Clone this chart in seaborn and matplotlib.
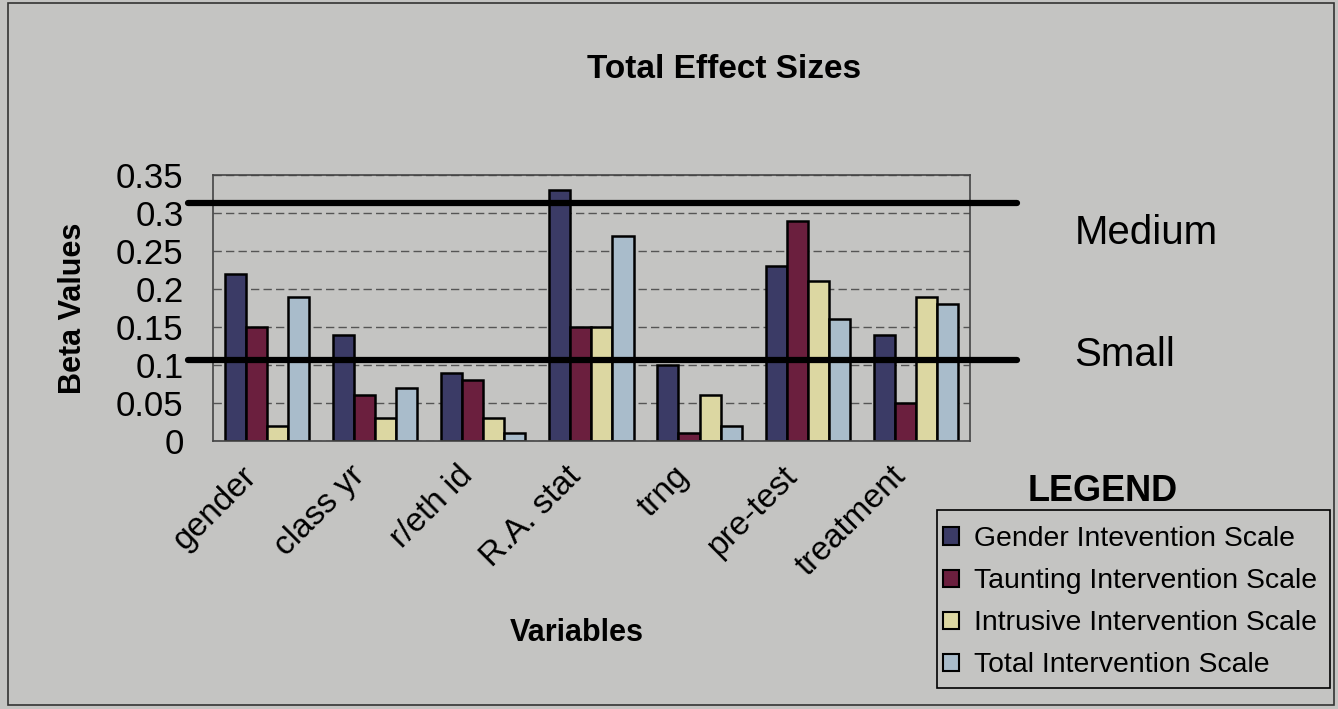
import numpy as np
import pandas as pd
import matplotlib
matplotlib.use('Agg')
import matplotlib.pyplot as plt
import seaborn as sns
from matplotlib.patches import Rectangle

# data
variables = ['gender', 'class yr', 'r/eth id', 'R.A. stat', 'trng', 'pre-test', 'treatment']
scales = ['Gender Intevention Scale', 'Taunting Intervention Scale',
          'Intrusive Intervention Scale', 'Total Intervention Scale']
gender_scale = [0.22, 0.14, 0.09, 0.33, 0.10, 0.23, 0.14]
taunting_scale = [0.15, 0.06, 0.08, 0.15, 0.01, 0.29, 0.05]
intrusive_scale = [0.02, 0.03, 0.03, 0.15, 0.06, 0.21, 0.19]
total_scale = [0.19, 0.07, 0.01, 0.27, 0.02, 0.16, 0.18]
medium_cut = 0.313
small_cut = 0.107

colors = ['#3b3b66', '#6b1f3e', '#dcd7a2', '#a9bccb']
bg = '#c4c4c2'

df = pd.DataFrame({'variable': variables * 4,
                   'scale': np.repeat(scales, len(variables)),
                   'beta': gender_scale + taunting_scale + intrusive_scale + total_scale})

sns.set_style('white')
plt.rcParams['font.family'] = ['Liberation Sans', 'DejaVu Sans']
plt.rcParams['text.color'] = 'black'
plt.rcParams['axes.labelcolor'] = 'black'
plt.rcParams['xtick.color'] = 'black'
plt.rcParams['ytick.color'] = 'black'

fig = plt.figure(figsize=(13.38, 7.09), dpi=100, facecolor=bg)
ax = fig.add_axes([0.159, 0.378, 0.566, 0.375])
ax.set_facecolor(bg)

sns.barplot(data=df, x='variable', y='beta', hue='scale', palette=colors,
            width=0.78, edgecolor='black', linewidth=1.8, saturation=1, ax=ax)

ax.set_ylim(0, 0.35)
ax.set_xlim(-0.5, 6.5)
ax.set_yticks(np.arange(0, 0.351, 0.05))
ax.set_yticklabels(['0', '0.05', '0.1', '0.15', '0.2', '0.25', '0.3', '0.35'], fontsize=25)
ax.yaxis.grid(True, color='#555555', linestyle=(0, (6, 3)), linewidth=1)
ax.set_axisbelow(True)
ax.tick_params(axis='y', direction='out', length=6, width=1, color='#444444', pad=15)

# Excel puts the slanted labels a bit left of the group centres
ax.set_xticks(np.arange(len(variables)) - 0.24)
ax.set_xticklabels(variables, rotation=45, ha='right', rotation_mode='anchor', fontsize=24)
ax.set_xticks(np.arange(-0.5, 7, 1), minor=True)
ax.tick_params(axis='x', which='major', length=0, pad=14)
ax.tick_params(axis='x', which='minor', direction='out', length=8, width=1.2, color='#333333')

for s in ax.spines.values():
    s.set_color('#444444')
    s.set_linewidth(1.2)

ax.set_ylabel('Beta Values', fontsize=22, fontweight='bold')
ax.yaxis.set_label_coords(-0.165, 0.5)
ax.set_xlabel('Variables', fontsize=22, fontweight='bold')
ax.xaxis.set_label_coords(0.481, -0.665)

# effect-size reference lines
for yv in [medium_cut, small_cut]:
    ax.axhline(yv, xmin=-0.033, xmax=1.062, color='black', linewidth=4.5, clip_on=False, zorder=5)
fig.text(0.803, 0.672, 'Medium', fontsize=29, va='center', ha='left')
fig.text(0.803, 0.500, 'Small', fontsize=29, va='center', ha='left')

fig.text(0.541, 0.902, 'Total Effect Sizes', fontsize=24, fontweight='bold', ha='center', va='center')

leg = ax.legend(loc='upper left', bbox_to_anchor=(943 / 1338, 1 - 526 / 709), bbox_transform=fig.transFigure,
                fontsize=20.4, frameon=False, handlelength=0.55, handleheight=0.55, handletextpad=0.55,
                labelspacing=0.57, borderpad=0, borderaxespad=0)
for h in leg.legend_handles:
    h.set_edgecolor('black')
    h.set_linewidth(1.5)
# legend box as in the original
fig.patches.append(Rectangle((937 / 1338, 1 - 688 / 709), 393 / 1338, 178 / 709, transform=fig.transFigure,
                             fill=False, edgecolor='black', linewidth=1.2))
fig.text(0.824, 0.307, 'LEGEND', fontsize=26, fontweight='bold', ha='center', va='center')

# outer border of the picture
fig.patches.append(Rectangle((0.006, 0.006), 0.991, 0.99, transform=fig.transFigure,
                             fill=False, edgecolor='#333333', linewidth=1.2))

plt.savefig('out.png', dpi=100, facecolor=bg)
plt.close()
